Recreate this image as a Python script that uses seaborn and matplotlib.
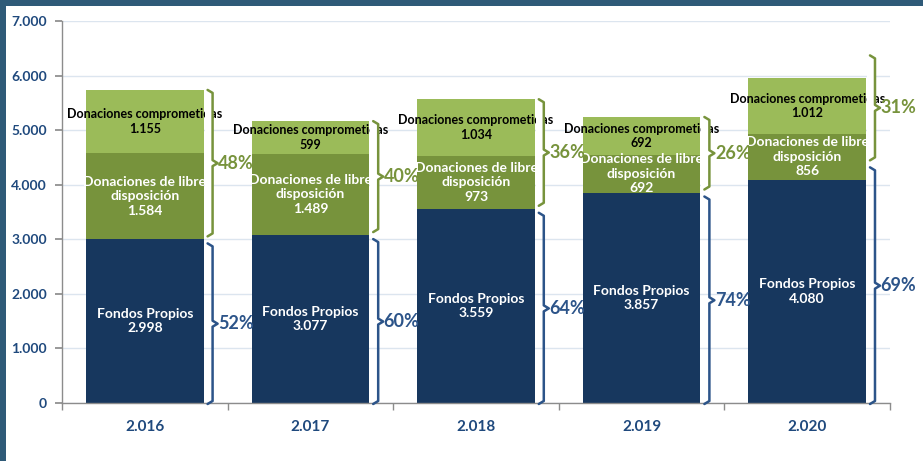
"""Fondos propios y donaciones por año (barras apiladas)."""

import matplotlib
import numpy as np
import pandas as pd
import seaborn as sns
from matplotlib import pyplot as plt
from matplotlib.patches import Rectangle

matplotlib.use("Agg")

YEARS = ["2.016", "2.017", "2.018", "2.019", "2.020"]
FONDOS = [2998, 3077, 3559, 3857, 4080]
LIBRE = [1584, 1489, 973, 692, 856]
COMPROMETIDAS = [1155, 599, 1034, 692, 1012]
Y_TICKS = [0, 1000, 2000, 3000, 4000, 5000, 6000, 7000]

NAVY = "#17375E"
OLIVE = "#77933C"
LIGHT = "#9BBB59"
BLUE = "#2C5489"
TICK_BLUE = "#1F497D"
FRAME = "#2F5A78"

W, H, DPI = 923, 461, 100
LEFT, RIGHT, BOTTOM, TOP = 62 / W, 890 / W, 1 - 403 / H, 1 - 21 / H
BAR_W = 0.71
# brace lift in pixels (top, middle) - last year's braces sit higher in the original
BRACE_LIFT = [(0, 0), (0, 0), (0, 0), (0, 0), (23, 17)]


def es(v: int) -> str:
    return f"{v:,}".replace(",", ".")


def main() -> None:
    sns.set_theme(style="white")
    plt.rcParams["font.family"] = ["Lato", "DejaVu Sans"]

    data = pd.DataFrame({
        "year": YEARS,
        "fondos": FONDOS,
        "libre": LIBRE,
        "comprometidas": COMPROMETIDAS,
    })
    data["mid"] = data["fondos"] + data["libre"]
    data["total"] = data["mid"] + data["comprometidas"]

    fig = plt.figure(figsize=(W / DPI, H / DPI), dpi=DPI)
    ax = fig.add_axes([LEFT, BOTTOM, RIGHT - LEFT, TOP - BOTTOM])

    for col, color in [("total", LIGHT), ("mid", OLIVE), ("fondos", NAVY)]:
        sns.barplot(data=data, x="year", y=col, color=color, saturation=1,
                    width=BAR_W, linewidth=0, ax=ax, zorder=2)

    ax.set_xlim(-0.5, len(YEARS) - 0.5)
    ax.set_ylim(0, 7000)
    ax.set_yticks(Y_TICKS)
    ax.set_yticklabels([es(t) for t in Y_TICKS])
    ax.set_xlabel("")
    ax.set_ylabel("")
    ax.yaxis.grid(True, color="#DCE5EF", linewidth=1)
    ax.set_axisbelow(True)
    for side in ["top", "right"]:
        ax.spines[side].set_visible(False)
    for side in ["left", "bottom"]:
        ax.spines[side].set_color("#8C8C8C")
        ax.spines[side].set_linewidth(1)
    ax.tick_params(axis="y", length=5, color="#8C8C8C", left=True, pad=6,
                   labelsize=10, labelcolor=TICK_BLUE)
    ax.tick_params(axis="x", which="major", length=0, pad=12,
                   labelsize=11, labelcolor=TICK_BLUE)
    ax.set_xticks(np.arange(-0.5, len(YEARS)), minor=True)
    ax.tick_params(axis="x", which="minor", length=5, color="#8C8C8C", bottom=True)
    for lab in ax.get_xticklabels() + ax.get_yticklabels():
        lab.set_fontweight("bold")

    # pixel -> data unit conversion
    px_x = 1 / ((RIGHT - LEFT) * W / len(YEARS))
    px_y = 7000 / ((TOP - BOTTOM) * H)

    for i, row in data.iterrows():
        cx = i
        # segment labels
        ax.text(cx, row["fondos"] / 2, f"Fondos Propios\n{es(row['fondos'])}",
                ha="center", va="center", color="white", fontsize=10,
                fontweight="bold", linespacing=1.25, zorder=3)
        ax.text(cx, row["fondos"] + row["libre"] / 2,
                f"Donaciones de libre\ndisposición\n{es(row['libre'])}",
                ha="center", va="center", color="white", fontsize=10,
                fontweight="bold", linespacing=1.25, zorder=3)
        ax.text(cx, row["mid"] + row["comprometidas"] / 2,
                f"Donaciones comprometidas\n{es(row['comprometidas'])}",
                ha="center", va="center", color="black", fontsize=9,
                fontweight="bold", linespacing=1.25, zorder=3)

        bar_r = cx + BAR_W / 2
        bx = bar_r + 9 * px_x
        lift_top, lift_mid = BRACE_LIFT[i]
        g_top = row["total"] + lift_top * px_y
        g_bot = row["fondos"] + (3 + lift_mid) * px_y
        b_top = row["fondos"] + (lift_mid - 4) * px_y
        b_bot = -1 * px_y
        pct_g = round(100 * (row["libre"] + row["comprometidas"]) / row["total"])
        pct_b = round(100 * row["fondos"] / row["total"])

        # white backing of the brace shape (hides overflowing text)
        ax.add_patch(Rectangle((bar_r + 1 * px_x, g_bot), bx - bar_r - 1 * px_x,
                               g_top - g_bot, facecolor="white", edgecolor="none",
                               zorder=4))
        for top, bot, color, pct in [(g_top, g_bot, OLIVE, pct_g),
                                     (b_top, b_bot, BLUE, pct_b)]:
            mid = (top + bot) / 2
            h, r, t = 5 * px_x, 3 * px_y, 5 * px_x
            xs = [bx - h, bx, bx, bx + t, bx, bx, bx - h]
            ys = [top, top - r, mid + r, mid, mid - r, bot + r, bot]
            ax.plot(xs, ys, color=color, linewidth=1.8, solid_joinstyle="round",
                    solid_capstyle="round", zorder=5, clip_on=False)
            ax.text(bx + t + 0.5 * px_x, mid, f"{pct}%", ha="left", va="center",
                    color=color, fontsize=13, fontweight="bold", zorder=6,
                    clip_on=False)

    # dark frame on top and left edges
    fig.add_artist(Rectangle((0, 1 - 6 / H), 1, 6 / H, transform=fig.transFigure,
                             facecolor=FRAME, edgecolor="none"))
    fig.add_artist(Rectangle((0, 0), 6 / W, 1, transform=fig.transFigure,
                             facecolor=FRAME, edgecolor="none"))

    fig.savefig("out.png", dpi=DPI)
    plt.close(fig)


if __name__ == "__main__":
    main()
